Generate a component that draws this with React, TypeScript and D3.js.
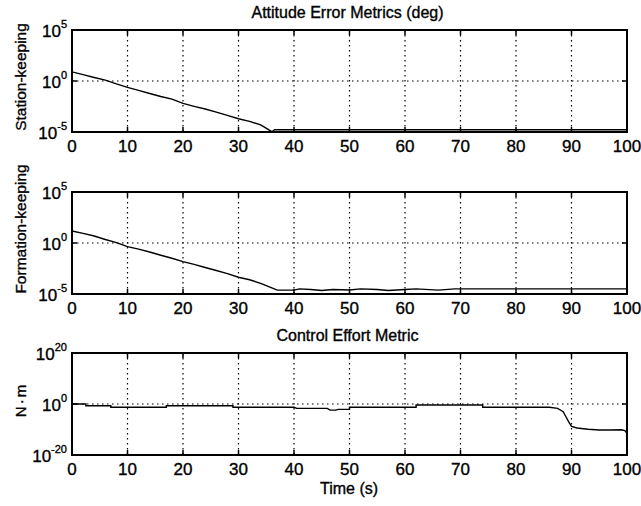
import React from 'react'
import * as d3 from 'd3'

// time axis (s)
const timeTicks = [0, 10, 20, 30, 40, 50, 60, 70, 80, 90, 100]

// station-keeping attitude error (deg)
const stationTime = [0, 2, 4, 6, 8, 10, 12, 14, 16, 18, 20, 22, 24, 26, 28, 30, 32, 34, 36, 36.5, 100]
const stationError = [7.9, 4.2, 2.2, 1.2, 0.52, 0.24, 0.12, 0.06, 0.03, 0.017, 6.3e-3, 3.3e-3, 1.8e-3, 8.9e-4,
  4.2e-4, 2e-4, 1.1e-4, 5e-5, 1.07e-5, 1.66e-5, 1.66e-5]

// formation-keeping attitude error (deg)
const formationTime = [0, 2, 4, 6, 8, 10, 12, 14, 16, 18, 20, 22, 24, 26, 28, 30, 32, 34, 36, 37, 40, 41, 43, 45,
  47, 50, 52, 55, 57, 60, 62, 66, 69, 100]
const formationError = [15, 8.9, 4.9, 2.2, 1.1, 0.44, 0.25, 0.13, 0.063, 0.032, 0.015, 7.9e-3, 4e-3, 2e-3, 1e-3,
  4.4e-4, 2.5e-4, 1.1e-4, 4e-5, 2.4e-5, 2.4e-5, 3.2e-5, 2.8e-5, 2.2e-5, 2.8e-5, 2.5e-5, 3.2e-5, 2.8e-5, 2.2e-5,
  2.8e-5, 3.2e-5, 2.4e-5, 3.2e-5, 3.2e-5]

// control effort (N·m)
const controlTime = [0, 2.5, 2.5, 7, 7, 17, 17, 29, 29, 40, 40.5, 46, 46.5, 47.5, 48, 50, 50, 62, 62, 74, 74, 86,
  87.5, 88.5, 89, 89.5, 90, 91, 93, 95, 97, 99, 99.6, 100]
const controlEffort = [1, 1, 0.22, 0.22, 0.05, 0.05, 0.22, 0.22, 0.05, 0.05, 0.02, 0.02, 0.004, 0.004, 0.008,
  0.008, 0.05, 0.05, 0.4, 0.4, 0.05, 0.05, 0.02, 1e-3, 1e-5, 1e-7, 1.6e-9, 4e-10, 1.3e-10, 6e-11, 6e-11, 8e-11,
  4e-11, 3e-12]

const FONT = '"Liberation Sans", Arial, Helvetica, sans-serif'
const LEFT = 72
const RIGHT = 627
const txt = { fontFamily: FONT, fill: '#000', stroke: '#000', strokeWidth: 0.35 }

function Panel(props) {
  const { top, bottom, exps, times, values, ylabel, ylabelY, title } = props
  const x = d3.scaleLinear().domain([0, 100]).range([LEFT, RIGHT])
  const y = d3.scaleLog()
    .domain([Math.pow(10, exps[0]), Math.pow(10, exps[2])])
    .range([bottom, top])
    .clamp(true)
  const pts = times.map((t, i) => [t, values[i]])
  const line = d3.line().x(d => x(d[0])).y(d => y(d[1]))
  const yMid = y(Math.pow(10, exps[1]))
  return (
    <g>
      {title && (
        <text x={(LEFT + RIGHT) / 2 - 2} y={top - 12} textAnchor="middle" fontSize={16} {...txt}>
          {title}
        </text>
      )}
      {/* grid */}
      {timeTicks.slice(1, -1).map(t => (
        <line key={'g' + t} x1={x(t)} x2={x(t)} y1={top} y2={bottom} stroke="#000" strokeWidth={1.2}
          strokeDasharray="1.5,3.5" />
      ))}
      <line x1={LEFT} x2={RIGHT} y1={yMid} y2={yMid} stroke="#000" strokeWidth={1.2} strokeDasharray="1.5,3.5" />
      {/* ticks */}
      {timeTicks.map(t => (
        <g key={'t' + t}>
          <line x1={x(t)} x2={x(t)} y1={bottom} y2={bottom - 5} stroke="#000" strokeWidth={1.5} />
          <line x1={x(t)} x2={x(t)} y1={top} y2={top + 5} stroke="#000" strokeWidth={1.5} />
          <text x={x(t)} y={bottom + 20} textAnchor="middle" fontSize={17} {...txt}>{t}</text>
        </g>
      ))}
      {exps.map(e => (
        <g key={'y' + e}>
          <line x1={LEFT} x2={LEFT + 5} y1={y(Math.pow(10, e))} y2={y(Math.pow(10, e))} stroke="#000" strokeWidth={1.5} />
          <line x1={RIGHT} x2={RIGHT - 5} y1={y(Math.pow(10, e))} y2={y(Math.pow(10, e))} stroke="#000" strokeWidth={1.5} />
          <text x={67} y={y(Math.pow(10, e)) + 7} textAnchor="end" fontSize={17} {...txt}>
            10<tspan dy={-9} fontSize={11}>{e}</tspan>
          </text>
        </g>
      ))}
      <path d={line(pts)} fill="none" stroke="#000" strokeWidth={1.4} />
      <rect x={LEFT} y={top} width={RIGHT - LEFT} height={bottom - top} fill="none" stroke="#000" strokeWidth={2} />
      <text transform={`translate(26,${ylabelY}) rotate(-90)`} textAnchor="middle" fontSize={props.ylabelSize || 15.5}
        letterSpacing={props.ylabelSpacing || 0} {...txt}>
        {ylabel}
      </text>
    </g>
  )
}

export default function App() {
  return (
    <svg width={641} height={506} style={{ position: 'absolute', left: 0, top: 0, background: '#fff' }}>
      <rect width={641} height={506} fill="#fff" />
      <Panel top={30} bottom={132} exps={[-5, 0, 5]} times={stationTime} values={stationError}
        ylabel="Station-keeping" ylabelY={77} title="Attitude Error Metrics (deg)" />
      <Panel top={192} bottom={294} exps={[-5, 0, 5]} times={formationTime} values={formationError}
        ylabel="Formation-keeping" ylabelY={229} />
      <Panel top={353} bottom={455} exps={[-20, 0, 20]} times={controlTime} values={controlEffort}
        ylabel="N·m" ylabelY={400} ylabelSize={15} ylabelSpacing={2} title="Control Effort Metric" />
      <text x={349} y={494} textAnchor="middle" fontSize={16} {...txt}>Time (s)</text>
    </svg>
  )
}
